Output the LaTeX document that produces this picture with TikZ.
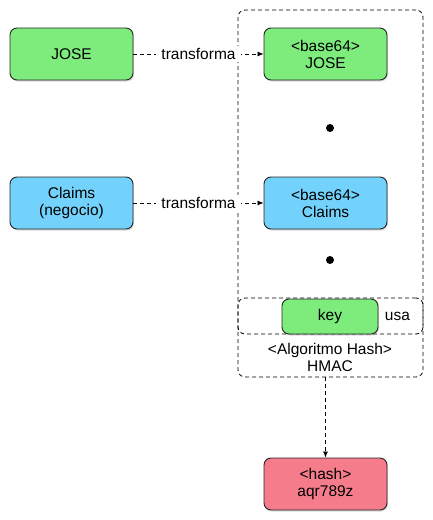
\documentclass[tikz,border=0pt]{standalone}
\usepackage{fontspec}
\setmainfont{Liberation Sans}
\usetikzlibrary{
  arrows.meta,
  shadows,
  positioning,
}
\definecolor{josegreen}{HTML}{7DEC7D}
\definecolor{claimsblue}{HTML}{72D2FB}
\definecolor{hashred}{HTML}{F57C8B}

\begin{document}
\begin{tikzpicture}[x=1pt,y=-1pt,
  txt/.style={font=\fontsize{15.5}{17}\selectfont, align=center},
  box/.style={txt, draw=black!85, line width=0.9pt, rounded corners=7pt,
    minimum width=123pt, minimum height=52pt, inner sep=0pt,
    drop shadow={shadow xshift=1pt, shadow yshift=-1.5pt, opacity=0.3}},
  groupbox/.style={draw, dash pattern=on 4pt off 3pt, line width=0.8pt,
    rounded corners=7pt, inner sep=0pt},
  link/.style={draw, dash pattern=on 4pt off 3pt, line width=0.8pt,
    -{Latex[length=6pt,width=5pt]}},
  linklabel/.style={txt, fill=white, inner xsep=5pt, inner ysep=2pt},
  dotmark/.style={circle, fill=black, minimum size=8pt, inner sep=0pt},
]
\useasboundingbox (0,0) rectangle (432,520);

\node[groupbox, minimum width=185pt, minimum height=367pt] (hmac) at (330.5,193.5) {};
\node[groupbox, minimum width=185pt, minimum height=36pt] (keyrow) at (330.5,316) {};

\node[box, fill=josegreen] (jose) at (71.5,54) {JOSE};
\node[box, fill=josegreen] (b64jose) at (325.5,54) {<base64>\\JOSE};
\node[box, fill=claimsblue] (claims) at (71.5,203) {Claims\\(negocio)};
\node[box, fill=claimsblue] (b64claims) at (325.5,203) {<base64>\\Claims};

\node[dotmark] (dotA) at (330,128) {};
\node[dotmark] (dotB) at (330,260) {};

\node[box, fill=josegreen, minimum width=96pt, minimum height=35pt] (key) at (330,316.5) {key};
\node[txt, right=3pt of key] (usa) {usa};
\node[txt] (algo) at (330,357) {<Algoritmo Hash>\\HMAC};

\node[box, fill=hashred] (hash) at (325.5,484) {<hash>\\aqr789z};

\draw[link] (jose) -- node[linklabel] {transforma} (b64jose);
\draw[link] (claims) -- node[linklabel] {transforma} (b64claims);
\draw[link] (hash.north |- hmac.south) -- (hash.north);
\end{tikzpicture}
\end{document}
